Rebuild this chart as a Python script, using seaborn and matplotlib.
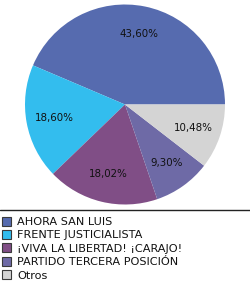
import matplotlib
matplotlib.use('Agg')
import matplotlib.pyplot as plt
from matplotlib.patches import Rectangle
from matplotlib.lines import Line2D
import seaborn as sns

sns.set_style('white')
plt.rcParams['font.family'] = ['DejaVu Sans']

## data
partidos = ['AHORA SAN LUIS', 'FRENTE JUSTICIALISTA', '¡VIVA LA LIBERTAD! ¡CARAJO!',
            'PARTIDO TERCERA POSICIÓN', 'Otros']
porcentajes = [43.60, 18.60, 18.02, 9.30, 10.48]
colores = ['#566BAF', '#33BDEE', '#804E86', '#6E6AA6', '#D4D4D4']

W, H = 250, 285
fig = plt.figure(figsize=(W/100, H/100), dpi=100)
fig.patch.set_facecolor('white')

## pie area
ax = fig.add_axes([25/W, 1-205/H, 200/W, 201/H])
wedges, texts, autotexts = ax.pie(porcentajes, colors=colores, startangle=0,
    counterclock=True, radius=1, pctdistance=0.72,
    autopct=lambda p: ('%.2f%%' % p).replace('.', ','),
    textprops={'fontsize': 7.4, 'color': '#111111'},
    wedgeprops={'linewidth': 0})
ax.set_xlim(-1, 1)
ax.set_ylim(-1, 1)
ax.set_aspect('equal')
ax.axis('off')

## separator line
fig.add_artist(Line2D([0, 1], [1-209.5/H, 1-209.5/H], color='#222222', lw=1))

## legend, one row per party (pixel layout, top-left origin)
row0, step, box = 221, 13.4, 9
for i, (nombre, c) in enumerate(zip(partidos, colores)):
    yc = row0 + i*step
    fig.add_artist(Rectangle((1.5/W, 1-(yc+box/2)/H), box/W, box/H,
        facecolor=c, edgecolor='#3a3a3a', lw=0.8, transform=fig.transFigure))
    fig.text(17/W, 1-yc/H, nombre, fontsize=8.1, color='#111111',
        ha='left', va='center_baseline')

plt.savefig('out.png', dpi=100)
